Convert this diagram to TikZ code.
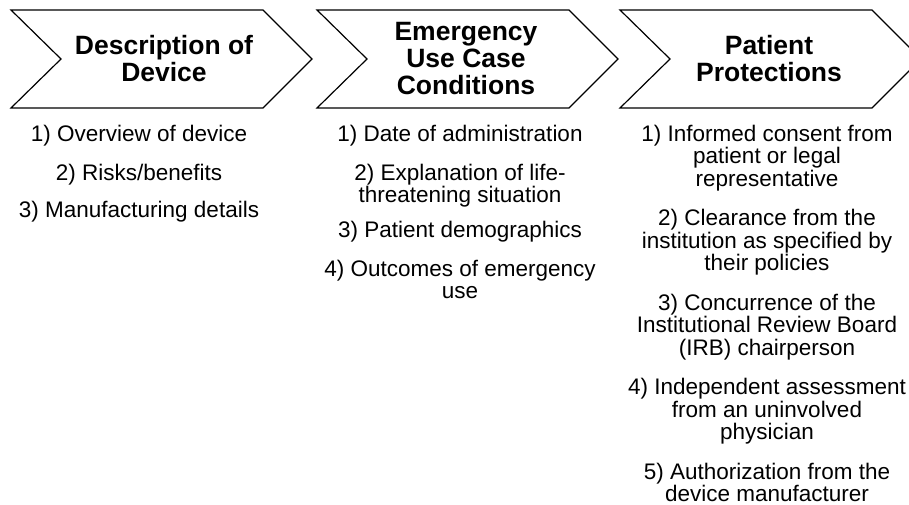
\documentclass[tikz,border=0pt]{standalone}
\usepackage{fontspec}
\setmainfont{Liberation Sans}
\begin{document}
\begin{tikzpicture}[x=1pt,y=-1pt,
  chevron/.style={draw=black, line width=1.2pt, line join=miter, fill=white},
  title/.style={font=\bfseries\fontsize{26.5}{27}\selectfont, align=center, inner sep=0pt},
  item/.style={font=\fontsize{22.5}{22.5}\selectfont, align=center, inner sep=0pt, anchor=north}]
\useasboundingbox (0,0) rectangle (909,505);
% three chevrons of the process
\foreach \x in {11,317,620}{
  \draw[chevron] (\x,10) -- ++(252,0) -- ++(49,49) -- ++(-49,49) -- ++(-252,0) -- ++(50,-49) -- cycle;
}
% headings
\node[title] (t1) at (164,59) {Description of\\Device};
\node[title] (t2) at (466,59) {Emergency\\Use Case\\Conditions};
\node[title] (t3) at (769,59) {Patient\\Protections};
% column 1
\node[item] (a1) at (139,124.6) {1) Overview of device};
\node[item] (a2) at (139,163.6) {2) Risks/benefits};
\node[item] (a3) at (139,200.6) {3) Manufacturing details};
% column 2
\node[item] (b1) at (460,124.6) {1) Date of administration};
\node[item] (b2) at (460,163.6) {2) Explanation of life-\\threatening situation};
\node[item] (b3) at (460,221) {3) Patient demographics};
\node[item] (b4) at (460,259.6) {4) Outcomes of emergency\\use};
% column 3
\node[item] (c1) at (767,124.6) {1) Informed consent from\\patient or legal\\representative};
\node[item] (c2) at (767,209) {2) Clearance from the\\institution as specified by\\their policies};
\node[item] (c3) at (767,293.5) {3) Concurrence of the\\Institutional Review Board\\(IRB) chairperson};
\node[item] (c4) at (767,378) {4) Independent assessment\\from an uninvolved\\physician};
\node[item] (c5) at (767,462.5) {5) Authorization from the\\device manufacturer};
\end{tikzpicture}
\end{document}
